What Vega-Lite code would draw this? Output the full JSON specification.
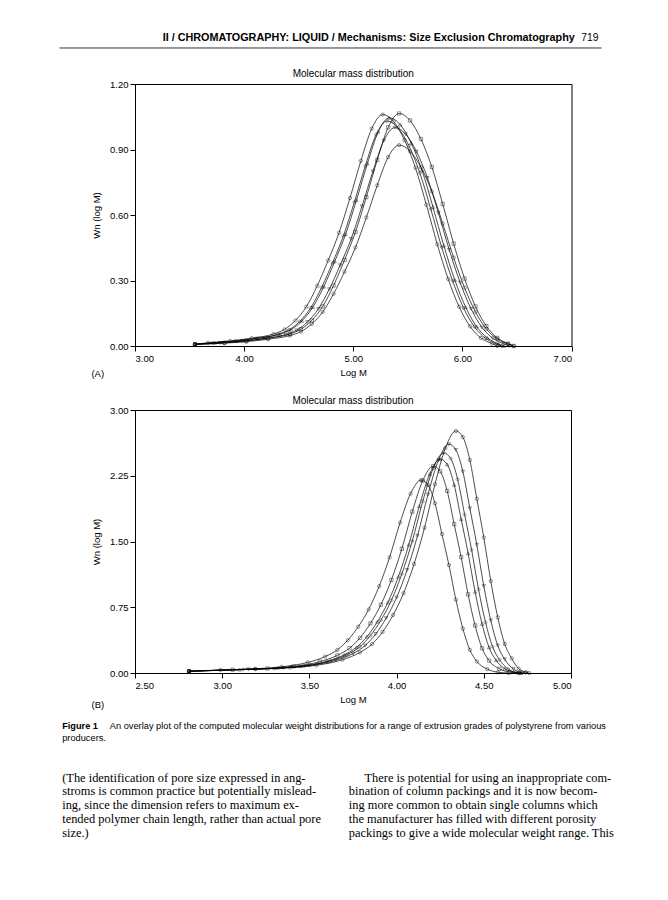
{
  "$schema": "https://vega.github.io/schema/vega-lite/v6.json",
  "background": "white",
  "padding": {"left": 58, "top": 31, "right": 5, "bottom": 5},
  "spacing": 16,
  "config": {
    "font": "Liberation Sans",
    "view": {"stroke": "black", "strokeWidth": 1},
    "axis": {"labelFont": "Liberation Sans", "labelFontSize": 9.5, "labelColor": "black", "titleFont": "Liberation Sans", "titleFontSize": 9.5, "titleFontWeight": "normal", "titleColor": "black", "domainColor": "black", "tickColor": "black", "tickSize": 5, "grid": false, "labelPadding": 2},
    "title": {"font": "Liberation Sans", "fontSize": 10, "fontWeight": "normal", "color": "black"}
  },
  "datasets": {
    "A": [
      {"s":"A1","x":3.55,"y":0.008},{"s":"A1","x":3.67,"y":0.015},{"s":"A1","x":3.87,"y":0.023},{"s":"A1","x":4.07,"y":0.036},{"s":"A1","x":4.27,"y":0.055},{"s":"A1","x":4.37,"y":0.076},{"s":"A1","x":4.47,"y":0.117},{"s":"A1","x":4.57,"y":0.18},{"s":"A1","x":4.67,"y":0.276},{"s":"A1","x":4.77,"y":0.392},{"s":"A1","x":4.87,"y":0.519},{"s":"A1","x":4.97,"y":0.678},{"s":"A1","x":5.07,"y":0.848},{"s":"A1","x":5.17,"y":0.996},{"s":"A1","x":5.27,"y":1.06},{"s":"A1","x":5.37,"y":1.028},{"s":"A1","x":5.47,"y":0.943},{"s":"A1","x":5.57,"y":0.816},{"s":"A1","x":5.67,"y":0.647},{"s":"A1","x":5.77,"y":0.466},{"s":"A1","x":5.87,"y":0.307},{"s":"A1","x":5.97,"y":0.18},{"s":"A1","x":6.07,"y":0.09},{"s":"A1","x":6.17,"y":0.037},{"s":"A1","x":6.27,"y":0.011},{"s":"A1","x":6.32,"y":0},
      {"s":"A2","x":3.55,"y":0.008},{"s":"A2","x":3.82,"y":0.015},{"s":"A2","x":4.02,"y":0.023},{"s":"A2","x":4.22,"y":0.036},{"s":"A2","x":4.42,"y":0.055},{"s":"A2","x":4.52,"y":0.077},{"s":"A2","x":4.62,"y":0.117},{"s":"A2","x":4.72,"y":0.181},{"s":"A2","x":4.82,"y":0.277},{"s":"A2","x":4.92,"y":0.394},{"s":"A2","x":5.02,"y":0.522},{"s":"A2","x":5.12,"y":0.682},{"s":"A2","x":5.22,"y":0.852},{"s":"A2","x":5.32,"y":1.001},{"s":"A2","x":5.42,"y":1.065},{"s":"A2","x":5.52,"y":1.033},{"s":"A2","x":5.62,"y":0.948},{"s":"A2","x":5.72,"y":0.82},{"s":"A2","x":5.82,"y":0.65},{"s":"A2","x":5.92,"y":0.469},{"s":"A2","x":6.02,"y":0.309},{"s":"A2","x":6.12,"y":0.181},{"s":"A2","x":6.22,"y":0.091},{"s":"A2","x":6.32,"y":0.037},{"s":"A2","x":6.42,"y":0.011},{"s":"A2","x":6.47,"y":0},
      {"s":"A3","x":3.55,"y":0.008},{"s":"A3","x":3.73,"y":0.015},{"s":"A3","x":3.93,"y":0.023},{"s":"A3","x":4.13,"y":0.036},{"s":"A3","x":4.33,"y":0.054},{"s":"A3","x":4.43,"y":0.075},{"s":"A3","x":4.53,"y":0.115},{"s":"A3","x":4.63,"y":0.178},{"s":"A3","x":4.73,"y":0.272},{"s":"A3","x":4.83,"y":0.387},{"s":"A3","x":4.93,"y":0.512},{"s":"A3","x":5.03,"y":0.669},{"s":"A3","x":5.13,"y":0.836},{"s":"A3","x":5.23,"y":0.982},{"s":"A3","x":5.33,"y":1.045},{"s":"A3","x":5.43,"y":1.014},{"s":"A3","x":5.53,"y":0.93},{"s":"A3","x":5.63,"y":0.805},{"s":"A3","x":5.73,"y":0.637},{"s":"A3","x":5.83,"y":0.46},{"s":"A3","x":5.93,"y":0.303},{"s":"A3","x":6.03,"y":0.178},{"s":"A3","x":6.13,"y":0.089},{"s":"A3","x":6.23,"y":0.037},{"s":"A3","x":6.33,"y":0.01},{"s":"A3","x":6.38,"y":0},
      {"s":"A4","x":3.55,"y":0.008},{"s":"A4","x":3.71,"y":0.014},{"s":"A4","x":3.91,"y":0.023},{"s":"A4","x":4.11,"y":0.035},{"s":"A4","x":4.31,"y":0.054},{"s":"A4","x":4.41,"y":0.074},{"s":"A4","x":4.51,"y":0.113},{"s":"A4","x":4.61,"y":0.175},{"s":"A4","x":4.71,"y":0.268},{"s":"A4","x":4.81,"y":0.381},{"s":"A4","x":4.91,"y":0.505},{"s":"A4","x":5.01,"y":0.659},{"s":"A4","x":5.11,"y":0.824},{"s":"A4","x":5.21,"y":0.968},{"s":"A4","x":5.31,"y":1.03},{"s":"A4","x":5.41,"y":0.999},{"s":"A4","x":5.51,"y":0.917},{"s":"A4","x":5.61,"y":0.793},{"s":"A4","x":5.71,"y":0.628},{"s":"A4","x":5.81,"y":0.453},{"s":"A4","x":5.91,"y":0.299},{"s":"A4","x":6.01,"y":0.175},{"s":"A4","x":6.11,"y":0.088},{"s":"A4","x":6.21,"y":0.036},{"s":"A4","x":6.31,"y":0.01},{"s":"A4","x":6.36,"y":0},
      {"s":"A5","x":3.55,"y":0.008},{"s":"A5","x":3.78,"y":0.014},{"s":"A5","x":3.98,"y":0.022},{"s":"A5","x":4.18,"y":0.034},{"s":"A5","x":4.38,"y":0.052},{"s":"A5","x":4.48,"y":0.072},{"s":"A5","x":4.58,"y":0.11},{"s":"A5","x":4.68,"y":0.17},{"s":"A5","x":4.78,"y":0.26},{"s":"A5","x":4.88,"y":0.37},{"s":"A5","x":4.98,"y":0.49},{"s":"A5","x":5.08,"y":0.64},{"s":"A5","x":5.18,"y":0.8},{"s":"A5","x":5.28,"y":0.94},{"s":"A5","x":5.38,"y":1.0},{"s":"A5","x":5.48,"y":0.97},{"s":"A5","x":5.58,"y":0.89},{"s":"A5","x":5.68,"y":0.77},{"s":"A5","x":5.78,"y":0.61},{"s":"A5","x":5.88,"y":0.44},{"s":"A5","x":5.98,"y":0.29},{"s":"A5","x":6.08,"y":0.17},{"s":"A5","x":6.18,"y":0.085},{"s":"A5","x":6.28,"y":0.035},{"s":"A5","x":6.38,"y":0.01},{"s":"A5","x":6.43,"y":0},
      {"s":"A6","x":3.55,"y":0.007},{"s":"A6","x":3.82,"y":0.013},{"s":"A6","x":4.02,"y":0.02},{"s":"A6","x":4.22,"y":0.031},{"s":"A6","x":4.42,"y":0.048},{"s":"A6","x":4.52,"y":0.066},{"s":"A6","x":4.62,"y":0.101},{"s":"A6","x":4.72,"y":0.156},{"s":"A6","x":4.82,"y":0.239},{"s":"A6","x":4.92,"y":0.34},{"s":"A6","x":5.02,"y":0.451},{"s":"A6","x":5.12,"y":0.589},{"s":"A6","x":5.22,"y":0.736},{"s":"A6","x":5.32,"y":0.865},{"s":"A6","x":5.42,"y":0.92},{"s":"A6","x":5.52,"y":0.892},{"s":"A6","x":5.62,"y":0.819},{"s":"A6","x":5.72,"y":0.708},{"s":"A6","x":5.82,"y":0.561},{"s":"A6","x":5.92,"y":0.405},{"s":"A6","x":6.02,"y":0.267},{"s":"A6","x":6.12,"y":0.156},{"s":"A6","x":6.22,"y":0.078},{"s":"A6","x":6.32,"y":0.032},{"s":"A6","x":6.42,"y":0.009},{"s":"A6","x":6.47,"y":0}
    ],
    "B": [
      {"s":"B1","x":2.81,"y":0.02},{"s":"B1","x":2.99,"y":0.035},{"s":"B1","x":3.19,"y":0.048},{"s":"B1","x":3.34,"y":0.07},{"s":"B1","x":3.49,"y":0.121},{"s":"B1","x":3.59,"y":0.187},{"s":"B1","x":3.66,"y":0.264},{"s":"B1","x":3.72,"y":0.374},{"s":"B1","x":3.78,"y":0.528},{"s":"B1","x":3.84,"y":0.726},{"s":"B1","x":3.9,"y":0.99},{"s":"B1","x":3.96,"y":1.32},{"s":"B1","x":4.02,"y":1.716},{"s":"B1","x":4.08,"y":2.046},{"s":"B1","x":4.14,"y":2.2},{"s":"B1","x":4.18,"y":2.145},{"s":"B1","x":4.22,"y":1.936},{"s":"B1","x":4.26,"y":1.584},{"s":"B1","x":4.3,"y":1.232},{"s":"B1","x":4.34,"y":0.836},{"s":"B1","x":4.38,"y":0.506},{"s":"B1","x":4.42,"y":0.264},{"s":"B1","x":4.46,"y":0.132},{"s":"B1","x":4.52,"y":0.044},{"s":"B1","x":4.58,"y":0.009},{"s":"B1","x":4.64,"y":0},
      {"s":"B2","x":2.81,"y":0.02},{"s":"B2","x":3.06,"y":0.038},{"s":"B2","x":3.26,"y":0.052},{"s":"B2","x":3.41,"y":0.076},{"s":"B2","x":3.56,"y":0.13},{"s":"B2","x":3.66,"y":0.201},{"s":"B2","x":3.73,"y":0.283},{"s":"B2","x":3.79,"y":0.401},{"s":"B2","x":3.85,"y":0.566},{"s":"B2","x":3.91,"y":0.779},{"s":"B2","x":3.97,"y":1.062},{"s":"B2","x":4.03,"y":1.416},{"s":"B2","x":4.09,"y":1.841},{"s":"B2","x":4.15,"y":2.195},{"s":"B2","x":4.21,"y":2.36},{"s":"B2","x":4.25,"y":2.301},{"s":"B2","x":4.29,"y":2.077},{"s":"B2","x":4.33,"y":1.699},{"s":"B2","x":4.37,"y":1.322},{"s":"B2","x":4.41,"y":0.897},{"s":"B2","x":4.45,"y":0.543},{"s":"B2","x":4.49,"y":0.283},{"s":"B2","x":4.53,"y":0.142},{"s":"B2","x":4.59,"y":0.047},{"s":"B2","x":4.65,"y":0.009},{"s":"B2","x":4.7,"y":0},
      {"s":"B3","x":2.81,"y":0.02},{"s":"B3","x":3.1,"y":0.039},{"s":"B3","x":3.3,"y":0.054},{"s":"B3","x":3.45,"y":0.078},{"s":"B3","x":3.6,"y":0.134},{"s":"B3","x":3.7,"y":0.207},{"s":"B3","x":3.77,"y":0.293},{"s":"B3","x":3.83,"y":0.415},{"s":"B3","x":3.89,"y":0.586},{"s":"B3","x":3.95,"y":0.805},{"s":"B3","x":4.01,"y":1.098},{"s":"B3","x":4.07,"y":1.464},{"s":"B3","x":4.13,"y":1.903},{"s":"B3","x":4.19,"y":2.269},{"s":"B3","x":4.25,"y":2.44},{"s":"B3","x":4.29,"y":2.379},{"s":"B3","x":4.33,"y":2.147},{"s":"B3","x":4.37,"y":1.757},{"s":"B3","x":4.41,"y":1.366},{"s":"B3","x":4.45,"y":0.927},{"s":"B3","x":4.49,"y":0.561},{"s":"B3","x":4.53,"y":0.293},{"s":"B3","x":4.57,"y":0.146},{"s":"B3","x":4.62,"y":0.049},{"s":"B3","x":4.67,"y":0.01},{"s":"B3","x":4.71,"y":0},
      {"s":"B4","x":2.81,"y":0.02},{"s":"B4","x":3.12,"y":0.04},{"s":"B4","x":3.32,"y":0.055},{"s":"B4","x":3.47,"y":0.08},{"s":"B4","x":3.62,"y":0.138},{"s":"B4","x":3.72,"y":0.213},{"s":"B4","x":3.79,"y":0.301},{"s":"B4","x":3.85,"y":0.427},{"s":"B4","x":3.91,"y":0.602},{"s":"B4","x":3.97,"y":0.828},{"s":"B4","x":4.03,"y":1.13},{"s":"B4","x":4.09,"y":1.506},{"s":"B4","x":4.15,"y":1.958},{"s":"B4","x":4.21,"y":2.334},{"s":"B4","x":4.27,"y":2.51},{"s":"B4","x":4.31,"y":2.447},{"s":"B4","x":4.35,"y":2.209},{"s":"B4","x":4.39,"y":1.807},{"s":"B4","x":4.43,"y":1.406},{"s":"B4","x":4.47,"y":0.954},{"s":"B4","x":4.51,"y":0.577},{"s":"B4","x":4.55,"y":0.301},{"s":"B4","x":4.59,"y":0.151},{"s":"B4","x":4.64,"y":0.045},{"s":"B4","x":4.68,"y":0.008},{"s":"B4","x":4.72,"y":0},
      {"s":"B5","x":2.81,"y":0.02},{"s":"B5","x":3.15,"y":0.042},{"s":"B5","x":3.35,"y":0.057},{"s":"B5","x":3.5,"y":0.084},{"s":"B5","x":3.65,"y":0.144},{"s":"B5","x":3.75,"y":0.222},{"s":"B5","x":3.82,"y":0.313},{"s":"B5","x":3.88,"y":0.444},{"s":"B5","x":3.94,"y":0.626},{"s":"B5","x":4.0,"y":0.861},{"s":"B5","x":4.06,"y":1.175},{"s":"B5","x":4.12,"y":1.566},{"s":"B5","x":4.18,"y":2.036},{"s":"B5","x":4.24,"y":2.427},{"s":"B5","x":4.3,"y":2.61},{"s":"B5","x":4.34,"y":2.545},{"s":"B5","x":4.38,"y":2.297},{"s":"B5","x":4.42,"y":1.879},{"s":"B5","x":4.46,"y":1.462},{"s":"B5","x":4.5,"y":0.992},{"s":"B5","x":4.54,"y":0.6},{"s":"B5","x":4.58,"y":0.313},{"s":"B5","x":4.62,"y":0.157},{"s":"B5","x":4.67,"y":0.045},{"s":"B5","x":4.71,"y":0.008},{"s":"B5","x":4.74,"y":0},
      {"s":"B6","x":2.81,"y":0.02},{"s":"B6","x":3.19,"y":0.044},{"s":"B6","x":3.39,"y":0.061},{"s":"B6","x":3.54,"y":0.088},{"s":"B6","x":3.69,"y":0.152},{"s":"B6","x":3.79,"y":0.235},{"s":"B6","x":3.86,"y":0.331},{"s":"B6","x":3.92,"y":0.469},{"s":"B6","x":3.98,"y":0.662},{"s":"B6","x":4.04,"y":0.911},{"s":"B6","x":4.1,"y":1.242},{"s":"B6","x":4.16,"y":1.656},{"s":"B6","x":4.22,"y":2.153},{"s":"B6","x":4.28,"y":2.567},{"s":"B6","x":4.34,"y":2.76},{"s":"B6","x":4.38,"y":2.691},{"s":"B6","x":4.42,"y":2.429},{"s":"B6","x":4.46,"y":1.987},{"s":"B6","x":4.5,"y":1.546},{"s":"B6","x":4.54,"y":1.049},{"s":"B6","x":4.58,"y":0.635},{"s":"B6","x":4.62,"y":0.331},{"s":"B6","x":4.66,"y":0.166},{"s":"B6","x":4.7,"y":0.05},{"s":"B6","x":4.74,"y":0.01},{"s":"B6","x":4.76,"y":0}
    ]
  },
  "vconcat": [
    {
      "width": 436.5,
      "height": 262,
      "layer": [
        {
          "data": {"name": "A"},
          "mark": {"type": "line", "interpolate": "monotone", "color": "black", "strokeWidth": 0.7},
          "encoding": {
            "x": {"field": "x", "type": "quantitative", "scale": {"domain": [3, 7], "nice": false, "zero": false}, "axis": {"values": [3, 4, 5, 6, 7], "format": ".2f", "title": "Log M", "titlePadding": 5}},
            "y": {"field": "y", "type": "quantitative", "scale": {"domain": [0, 1.2], "nice": false}, "axis": {"values": [0, 0.3, 0.6, 0.9, 1.2], "format": ".2f", "title": "Wn (log M)", "titlePadding": 8}},
            "detail": {"field": "s"}
          }
        },
        {
          "data": {"name": "A"},
          "mark": {"type": "point", "filled": false, "size": 11, "color": "black", "strokeWidth": 0.6},
          "encoding": {
            "x": {"field": "x", "type": "quantitative"},
            "y": {"field": "y", "type": "quantitative"},
            "shape": {"field": "s", "type": "nominal", "legend": null, "scale": {"range": ["circle", "square", "triangle-up", "diamond", "triangle-down", "circle"]}}
          }
        },
        {
          "data": {"values": [{"t": "Molecular mass distribution"}]},
          "mark": {"type": "text", "align": "center", "baseline": "middle", "fontSize": 10, "font": "Liberation Sans"},
          "encoding": {"x": {"datum": 5.0, "type": "quantitative"}, "y": {"datum": 1.2458, "type": "quantitative"}, "text": {"field": "t"}}
        },
        {
          "data": {"values": [{"t": "II / CHROMATOGRAPHY: LIQUID / Mechanisms: Size Exclusion Chromatography"}]},
          "mark": {"type": "text", "align": "right", "baseline": "middle", "fontWeight": "bold", "fontSize": 10.8, "font": "Liberation Sans"},
          "encoding": {"x": {"datum": 7.03, "type": "quantitative"}, "y": {"datum": 1.411, "type": "quantitative"}, "text": {"field": "t"}}
        },
        {
          "data": {"values": [{"t": "719"}]},
          "mark": {"type": "text", "align": "right", "baseline": "middle", "fontSize": 10.3, "font": "Liberation Sans"},
          "encoding": {"x": {"datum": 7.247, "type": "quantitative"}, "y": {"datum": 1.411, "type": "quantitative"}, "text": {"field": "t"}}
        },
        {
          "data": {"values": [{"t": "rule"}]},
          "mark": {"type": "rule", "color": "black", "strokeWidth": 0.8},
          "encoding": {"x": {"datum": 2.308, "type": "quantitative"}, "x2": {"datum": 7.275}, "y": {"datum": 1.365, "type": "quantitative"}}
        },
        {
          "data": {"values": [{"t": "(A)"}]},
          "mark": {"type": "text", "align": "left", "baseline": "middle", "fontSize": 9.5, "font": "Liberation Sans"},
          "encoding": {"x": {"datum": 2.601, "type": "quantitative"}, "y": {"datum": -0.128, "type": "quantitative"}, "text": {"field": "t"}}
        }
      ]
    },
    {
      "width": 436,
      "height": 263,
      "title": {"text": "Molecular mass distribution", "offset": -1},
      "layer": [
        {
          "data": {"name": "B"},
          "mark": {"type": "line", "interpolate": "monotone", "color": "black", "strokeWidth": 0.7},
          "encoding": {
            "x": {"field": "x", "type": "quantitative", "scale": {"domain": [2.5, 5], "nice": false, "zero": false}, "axis": {"values": [2.5, 3, 3.5, 4, 4.5, 5], "format": ".2f", "title": "Log M", "titlePadding": 5}},
            "y": {"field": "y", "type": "quantitative", "scale": {"domain": [0, 3], "nice": false}, "axis": {"values": [0, 0.75, 1.5, 2.25, 3], "format": ".2f", "title": "Wn (log M)", "titlePadding": 8}},
            "detail": {"field": "s"}
          }
        },
        {
          "data": {"name": "B"},
          "mark": {"type": "point", "filled": false, "size": 11, "color": "black", "strokeWidth": 0.6},
          "encoding": {
            "x": {"field": "x", "type": "quantitative"},
            "y": {"field": "y", "type": "quantitative"},
            "shape": {"field": "s", "type": "nominal", "legend": null, "scale": {"range": ["diamond", "circle", "triangle-up", "square", "triangle-down", "square"]}}
          }
        },
        {
          "data": {"values": [{"t": "(B)"}]},
          "mark": {"type": "text", "align": "left", "baseline": "middle", "fontSize": 9.5, "font": "Liberation Sans"},
          "encoding": {"x": {"datum": 2.2506, "type": "quantitative"}, "y": {"datum": -0.36, "type": "quantitative"}, "text": {"field": "t"}}
        },
        {
          "data": {"values": [{"t": "Figure 1"}]},
          "mark": {"type": "text", "align": "left", "baseline": "middle", "fontSize": 9.2, "fontWeight": "bold", "font": "Liberation Sans"},
          "encoding": {"x": {"datum": 2.0826, "type": "quantitative"}, "y": {"datum": -0.605, "type": "quantitative"}, "text": {"field": "t"}}
        },
        {
          "data": {"values": [{"t": "An overlay plot of the computed molecular weight distributions for a range of extrusion grades of polystyrene from various"}]},
          "mark": {"type": "text", "align": "left", "baseline": "middle", "fontSize": 9.25, "font": "Liberation Sans"},
          "encoding": {"x": {"datum": 2.3555, "type": "quantitative"}, "y": {"datum": -0.605, "type": "quantitative"}, "text": {"field": "t"}}
        },
        {
          "data": {"values": [{"t": "producers."}]},
          "mark": {"type": "text", "align": "left", "baseline": "middle", "fontSize": 9.25, "font": "Liberation Sans"},
          "encoding": {"x": {"datum": 2.0826, "type": "quantitative"}, "y": {"datum": -0.738, "type": "quantitative"}, "text": {"field": "t"}}
        },
        {
          "data": {"values": [{"t": ["(The identification of pore size expressed in ang-", "stroms is common practice but potentially mislead-", "ing, since the dimension refers to maximum ex-", "tended polymer chain length, rather than actual pore", "size.)"]}]},
          "mark": {"type": "text", "align": "left", "baseline": "alphabetic", "fontSize": 12.4, "lineHeight": 13.9, "font": "Liberation Serif"},
          "encoding": {"x": {"datum": 2.0826, "type": "quantitative"}, "y": {"datum": -1.238, "type": "quantitative"}, "text": {"field": "t"}}
        },
        {
          "data": {"values": [{"t": "There is potential for using an inappropriate com-"}]},
          "mark": {"type": "text", "align": "left", "baseline": "alphabetic", "fontSize": 12.4, "font": "Liberation Serif"},
          "encoding": {"x": {"datum": 3.816, "type": "quantitative"}, "y": {"datum": -1.238, "type": "quantitative"}, "text": {"field": "t"}}
        },
        {
          "data": {"values": [{"t": ["bination of column packings and it is now becom-", "ing more common to obtain single columns which", "the manufacturer has filled with different porosity", "packings to give a wide molecular weight range. This"]}]},
          "mark": {"type": "text", "align": "left", "baseline": "alphabetic", "fontSize": 12.4, "lineHeight": 13.9, "font": "Liberation Serif"},
          "encoding": {"x": {"datum": 3.726, "type": "quantitative"}, "y": {"datum": -1.3965, "type": "quantitative"}, "text": {"field": "t"}}
        }
      ]
    }
  ]
}
